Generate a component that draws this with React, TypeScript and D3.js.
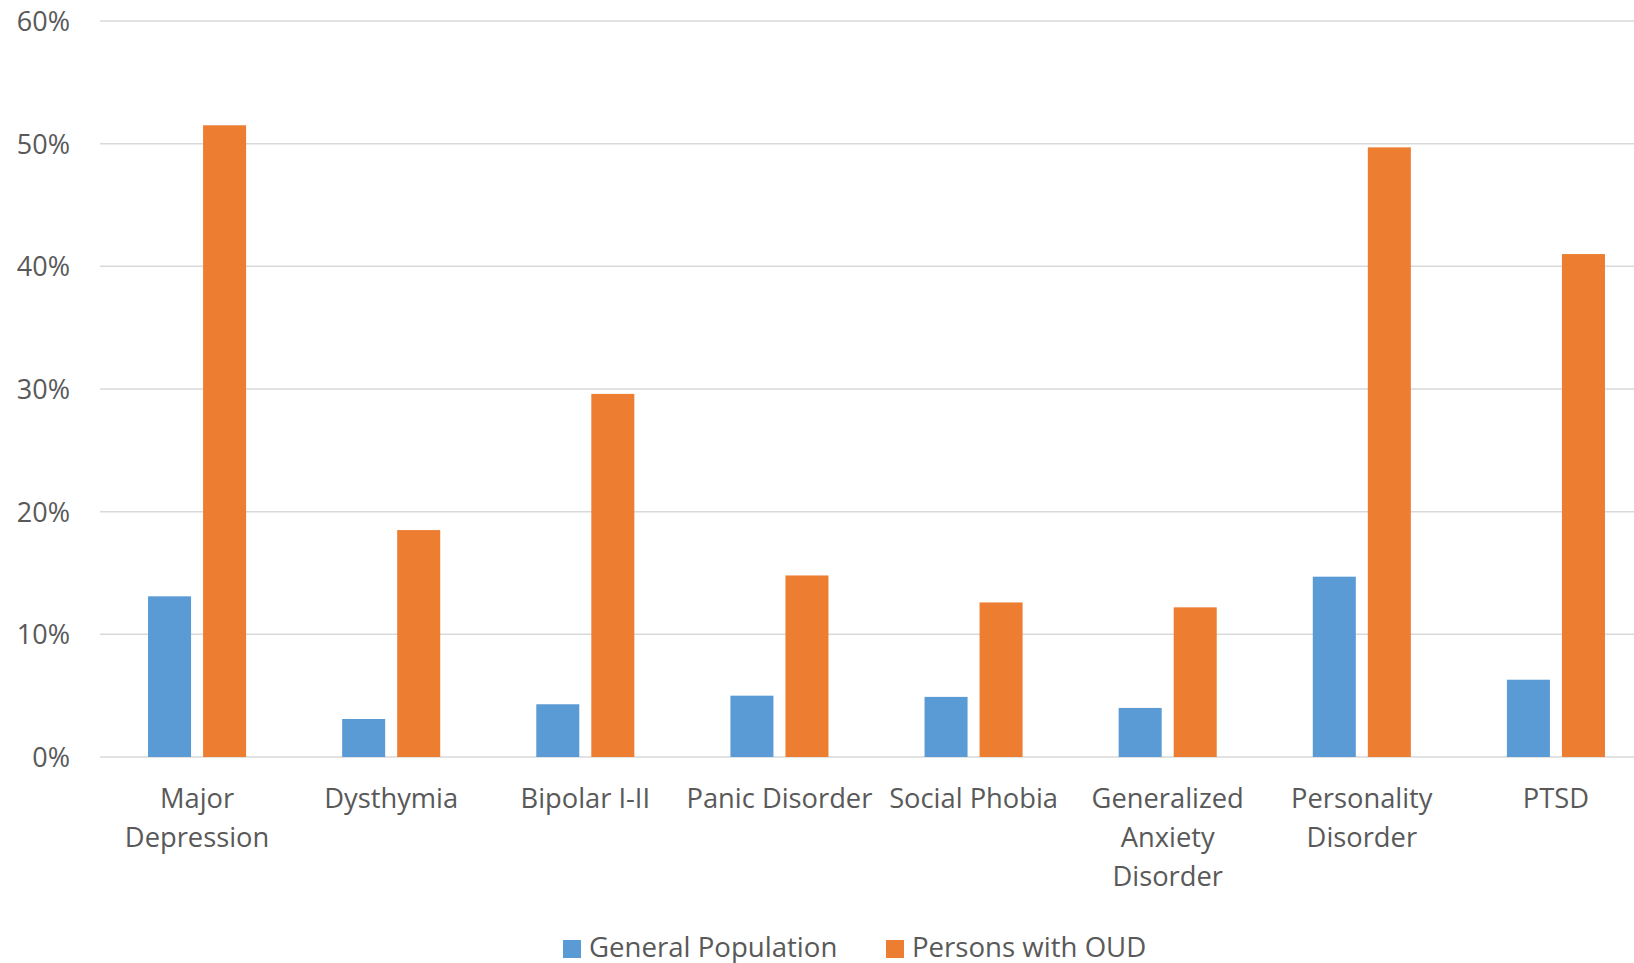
import React from "react";
import * as d3 from "d3";

const categories: string[][] = [
  ["Major", "Depression"],
  ["Dysthymia"],
  ["Bipolar I-II"],
  ["Panic Disorder"],
  ["Social Phobia"],
  ["Generalized", "Anxiety", "Disorder"],
  ["Personality", "Disorder"],
  ["PTSD"],
];
const categoryKeys = categories.map((c) => c.join(" "));
const seriesNames = ["General Population", "Persons with OUD"];
const generalPopulation = [0.131, 0.031, 0.043, 0.05, 0.049, 0.04, 0.147, 0.063];
const personsWithOUD = [0.515, 0.185, 0.296, 0.148, 0.126, 0.122, 0.497, 0.41];
const yTicks = [0, 0.1, 0.2, 0.3, 0.4, 0.5, 0.6];
const colors = ["#5B9BD5", "#ED7D31"];

const W = 1634;
const H = 963;
const FONT = "'Open Sans', sans-serif";
const TEXT = "#595959";

export default function App() {
  const x0 = d3.scaleBand<string>().domain(categoryKeys).range([100, 1653]).paddingInner(0).paddingOuter(0);
  const x1 = d3
    .scaleBand<string>()
    .domain(seriesNames)
    .range([0, x0.bandwidth()])
    .paddingInner(12 / 55)
    .paddingOuter(48 / 55);
  const y = d3.scaleLinear().domain([0, 0.6]).range([757, 21]);
  const fmt = d3.format(".0%");
  const series = [generalPopulation, personsWithOUD];
  const legendX = [563, 886];

  return (
    <svg width={W} height={H} style={{ position: "absolute", left: 0, top: 0, background: "#fff" }}>
      <rect x={0} y={0} width={W} height={H} fill="#fff" />
      {yTicks.map((t) => (
        <g key={t}>
          <line x1={100} x2={W} y1={y(t)} y2={y(t)} stroke="#d9d9d9" strokeWidth={1.5} />
          <text x={70} y={y(t) + 10} textAnchor="end" fontFamily={FONT} fontSize={27} fill={TEXT}>
            {fmt(t)}
          </text>
        </g>
      ))}
      {series.map((vals, si) =>
        vals.map((v, i) => (
          <rect
            key={`${si}-${i}`}
            x={(x0(categoryKeys[i]) as number) + (x1(seriesNames[si]) as number)}
            y={y(v)}
            width={x1.bandwidth()}
            height={y(0) - y(v)}
            fill={colors[si]}
          />
        ))
      )}
      {categories.map((lines, i) => (
        <text
          key={i}
          x={(x0(categoryKeys[i]) as number) + x0.bandwidth() / 2}
          textAnchor="middle"
          fontFamily={FONT}
          fontSize={27.3}
          fill={TEXT}
        >
          {lines.map((l, j) => (
            <tspan key={j} x={(x0(categoryKeys[i]) as number) + x0.bandwidth() / 2} y={808 + j * 39}>
              {l}
            </tspan>
          ))}
        </text>
      ))}
      <g>
        {seriesNames.map((name, si) => (
          <g key={name}>
            <rect x={legendX[si]} y={940} width={18} height={18} fill={colors[si]} />
            <text x={legendX[si] + 26} y={957} fontFamily={FONT} fontSize={27.6} fill={TEXT}>
              {name}
            </text>
          </g>
        ))}
      </g>
    </svg>
  );
}
